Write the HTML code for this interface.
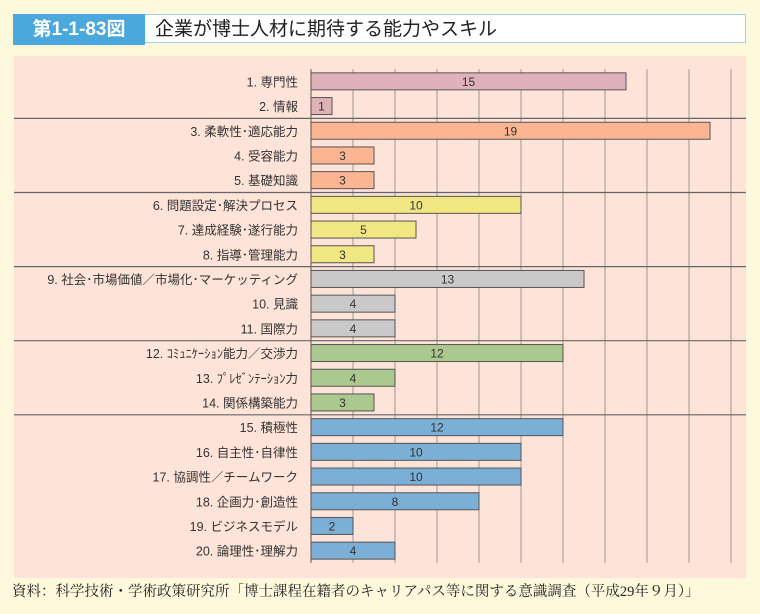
<!DOCTYPE html>
<html><head><meta charset="utf-8"><style>
body{margin:0;width:760px;height:614px;background:#fef9dd;font-family:"Liberation Sans","Noto Sans CJK JP",sans-serif;position:relative;overflow:hidden}
#tag{position:absolute;left:13px;top:14px;width:132px;height:31px;background:#4aa8dc;color:#fff;font-size:19px;font-weight:bold;line-height:31px;text-align:center}
#ttl{position:absolute;left:145px;top:14px;width:601px;height:29px;background:#fff;border:1px solid #9fd0ea;border-left:none;font-size:19px;line-height:29px;padding-left:10px;box-sizing:border-box;color:#222}
#src{position:absolute;left:12px;top:580px;font-family:"Liberation Serif","Noto Serif CJK SC",serif;font-size:14.5px;color:#222}
svg{position:absolute;left:0;top:0}
</style></head><body>
<div id="tag">第1-1-83図</div>
<div id="ttl">企業が博士人材に期待する能力やスキル</div>
<svg id="chart" width="760" height="614"></svg>
<div id="src">資料：科学技術・学術政策研究所「博士課程在籍者のキャリアパス等に関する意識調査（平成29年９月）」</div>
<script>
const categories=["1. 専門性","2. 情報","3. 柔軟性･適応能力","4. 受容能力","5. 基礎知識","6. 問題設定･解決プロセス","7. 達成経験･遂行能力","8. 指導･管理能力","9. 社会･市場価値／市場化･マーケッティング","10. 見識","11. 国際力","12. ｺﾐｭﾆｹｰｼｮﾝ能力／交渉力","13. ﾌﾟﾚｾﾞﾝﾃｰｼｮﾝ力","14. 関係構築能力","15. 積極性","16. 自主性･自律性","17. 協調性／チームワーク","18. 企画力･創造性","19. ビジネスモデル","20. 論理性･理解力"];
const values=[15,1,19,3,3,10,5,3,13,4,4,12,4,3,12,10,10,8,2,4];
const groups=[0,0,1,1,1,2,2,2,3,3,3,4,4,4,5,5,5,5,5,5];
const groupColors=["#dfb1b8","#fbb592","#f1e782","#c9c9c9","#abc88f","#7bafd6"];
const gridTicks=[0,2,4,6,8,10,12,14,16,18,20];
const svg=document.getElementById('chart');const NS="http://www.w3.org/2000/svg";
const x0=311,pxPerUnit=21,rowTop=69,rowH=24.7;
const xs=v=>x0+v*pxPerUnit;const yc=i=>rowTop+rowH*(i+0.5);
function mk(t,a,p){const e=document.createElementNS(NS,t);for(const k in a)e.setAttribute(k,a[k]);(p||svg).appendChild(e);return e;}
const panel=mk('rect',{x:14,y:56,width:732,height:522,fill:'#fde3d8'});


gridTicks.forEach(t=>{const l=mk('line',{x1:xs(t),x2:xs(t),y1:rowTop,y2:rowTop+rowH*20,stroke:t===0?'#555':'#999','stroke-width':1});

});
for(let i=1;i<groups.length;i++){if(groups[i]!==groups[i-1]){const y=rowTop+rowH*i;const l=mk('line',{x1:14,x2:746,y1:y,y2:y,stroke:'#666','stroke-width':1.2});

}}
categories.forEach((c,i)=>{const y=yc(i);
const t=mk('text',{x:298,y:y+5,'text-anchor':'end','font-size':12.5,fill:'#333'});t.textContent=c;


const b=mk('rect',{x:x0,y:y-8.5,width:xs(values[i])-x0,height:17,fill:groupColors[groups[i]],stroke:'#555','stroke-width':1});


const v=mk('text',{x:(x0+xs(values[i]))/2,y:y+4.5,'text-anchor':'middle','font-size':12,fill:'#333'});v.textContent=values[i];

});
</script>
</body></html>
